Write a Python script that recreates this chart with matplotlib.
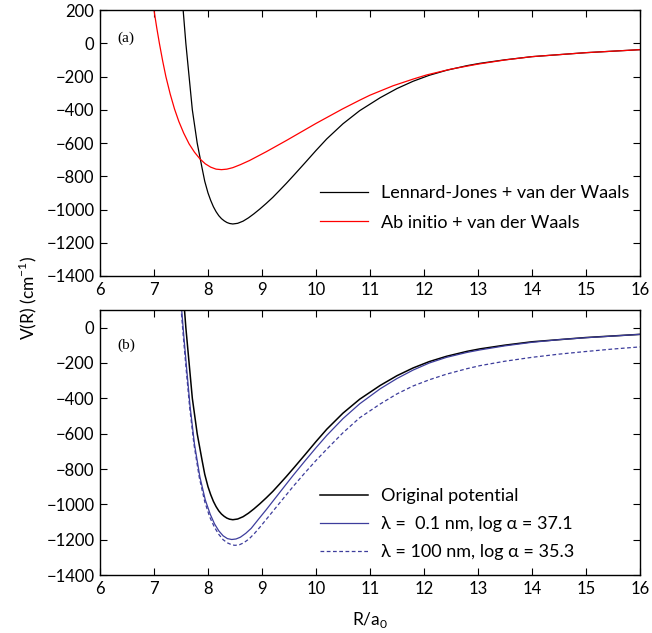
import matplotlib
matplotlib.use('Agg')
import matplotlib.pyplot as plt

plt.rcParams['font.family'] = ['Lato', 'DejaVu Sans']
plt.rcParams['mathtext.fontset'] = 'custom'
plt.rcParams['mathtext.rm'] = 'Lato'

# --- data ---
# Lennard-Jones + van der Waals (also "Original potential" in panel b)
r_lj = [7.54, 7.59, 7.65, 7.71, 7.80, 7.89, 7.94, 8.00, 8.05, 8.10, 8.15, 8.20,
        8.25, 8.30, 8.35, 8.40, 8.46, 8.55, 8.65, 8.75, 8.85, 8.96, 9.08, 9.20,
        9.32, 9.45, 9.60, 9.80, 10.00, 10.20, 10.50, 10.81, 11.19, 11.50,
        11.80, 12.10, 12.42, 12.80, 13.04, 13.50, 14.00, 15.00, 16.00]
v_lj = [200, 0, -200, -400, -600, -750, -830, -900, -945, -983, -1013, -1037,
        -1055, -1068, -1078, -1084, -1087, -1083, -1070, -1050, -1026, -997, -963, -927,
        -887, -843, -790, -718, -645, -575, -484, -405, -327, -272,
        -228, -192, -162, -134, -120, -99, -80, -56, -38]

# Ab initio + van der Waals
r_ai = [7.00, 7.05, 7.10, 7.16, 7.22, 7.30, 7.38, 7.46, 7.55, 7.65, 7.75, 7.85,
        7.95, 8.05, 8.15, 8.25, 8.35, 8.46, 8.60, 8.77, 9.08, 9.45, 10.00, 10.49,
        10.81, 11.00, 11.43, 11.80, 12.05, 12.50, 13.00, 13.50, 14.00, 15.00, 16.00]
v_ai = [200, 95, 0, -105, -200, -305, -395, -470, -540, -605, -655, -695,
        -725, -745, -757, -760, -757, -748, -730, -705, -652, -585, -482, -395,
        -342, -312, -255, -215, -190, -155, -125, -100, -80, -56, -38]

# lambda = 0.1 nm, log alpha = 37.1
r_s = [7.50, 7.55, 7.61, 7.67, 7.75, 7.85, 7.95, 8.04, 8.12, 8.20, 8.28, 8.36,
       8.44, 8.52, 8.60, 8.70, 8.80, 8.96, 9.08, 9.20, 9.40, 9.58, 9.80, 10.00,
       10.20, 10.50, 10.81, 11.19, 11.50, 11.80, 12.10, 12.42, 12.80, 13.04,
       13.50, 14.00, 14.50, 15.00, 16.00]
v_s = [150, -40, -250, -450, -660, -845, -975, -1055, -1110, -1150, -1178, -1194,
       -1199, -1196, -1186, -1164, -1136, -1075, -1030, -983, -905, -835, -753, -680,
       -610, -515, -431, -346, -288, -240, -200, -168, -140, -126,
       -103, -83, -68, -57, -38]

# lambda = 100 nm, log alpha = 35.3
r_l = [7.49, 7.54, 7.60, 7.66, 7.74, 7.84, 7.94, 8.03, 8.12, 8.20, 8.28, 8.36,
       8.44, 8.50, 8.58, 8.66, 8.76, 8.86, 8.96, 9.08, 9.20, 9.40, 9.58, 9.80,
       10.00, 10.20, 10.50, 10.81, 11.19, 11.50, 11.80, 12.10, 12.42, 12.80,
       13.04, 13.50, 14.00, 14.50, 15.00, 15.50, 16.00]
v_l = [150, -40, -250, -450, -660, -850, -985, -1070, -1130, -1170, -1200, -1218,
       -1229, -1232, -1229, -1218, -1196, -1165, -1130, -1085, -1040, -965, -898, -820,
       -752, -688, -595, -510, -432, -375, -330, -295, -263, -232,
       -215, -190, -168, -150, -135, -121, -109]

labels_a = ['Lennard-Jones + van der Waals', 'Ab initio + van der Waals']
labels_b = ['Original potential', 'λ =  0.1 nm, log α = 37.1',
            'λ = 100 nm, log α = 35.3']
blue = '#3d3d9c'

fig = plt.figure(figsize=(6.52, 6.33), dpi=100)
ax1 = fig.add_axes([0.1534, 0.564, 0.828, 0.420])
ax2 = fig.add_axes([0.1534, 0.0916, 0.828, 0.4187])

ax1.plot(r_lj, v_lj, color='black', lw=0.9, label=labels_a[0])
ax1.plot(r_ai, v_ai, color='red', lw=0.9, label=labels_a[1])
ax1.set_ylim(-1400, 200)
ax1.set_yticks(range(-1400, 201, 200))

ax2.plot(r_lj, v_lj, color='black', lw=1.1, label=labels_b[0])
ax2.plot(r_s, v_s, color=blue, lw=0.9, label=labels_b[1])
ax2.plot(r_l, v_l, color=blue, lw=0.9, ls=(0, (3, 2)), label=labels_b[2])
ax2.set_ylim(-1400, 100)
ax2.set_yticks(range(-1400, 1, 200))

for ax, tag, ty, ly, sp in [(ax1, '(a)', 0.895, 0.17, 0.75),
                            (ax2, '(b)', 0.868, 0.055, 0.68)]:
    ax.set_xlim(6, 16)
    ax.set_xticks(range(6, 17))
    ax.tick_params(direction='in', top=True, right=True, length=5, width=0.8,
                   labelsize=12, pad=4)
    for s in ax.spines.values():
        s.set_linewidth(1.0)
    ax.text(0.033, ty, tag, transform=ax.transAxes, fontsize=11,
            family='Liberation Serif', va='center')
    ax.legend(loc='lower left', bbox_to_anchor=(0.407, ly), frameon=False,
              fontsize=13, handlelength=2.7, labelspacing=sp,
              handletextpad=0.67, borderpad=0, borderaxespad=0)

ax2.set_xlabel('R/a$_0$', fontsize=12.5, labelpad=10)
fig.text(0.043, 0.53, 'V(R) (cm$^{-1}$)', rotation=90, fontsize=12.5,
         ha='center', va='center')

fig.savefig('out.png', dpi=100)
